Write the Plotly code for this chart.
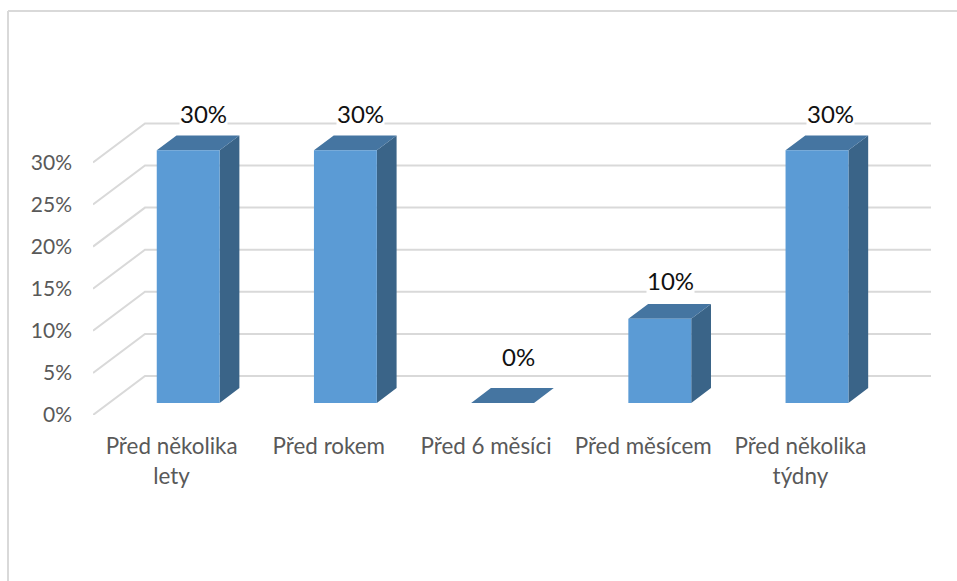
import plotly.graph_objects as go

# Chart data
categories = ["Před několika<br>lety", "Před rokem", "Před 6 měsíci", "Před měsícem", "Před několika<br>týdny"]
values = [30, 30, 0, 10, 30]
value_labels = ["30%", "30%", "0%", "10%", "30%"]
y_ticks = [0, 5, 10, 15, 20, 25, 30]
y_tick_labels = ["0%", "5%", "10%", "15%", "20%", "25%", "30%"]

# Per-label nudges for the value labels, in pixels
label_dx = [-4, -4, -3, -9, -6]
label_dy = [-22, -22, -32, -23, -22]

# Page geometry in pixels
W, H = 957, 581
LEFT, RIGHT, TOP, BOTTOM = 93, 931, 100, 415
CAT_PX = 157.2
PCT_PX = 8.42

# Oblique projection of the 3D floor, expressed in axis units
DEPTH_X = 52 / CAT_PX
DEPTH_Y = 39 / PCT_PX
BAR_WIDTH = 0.40
BAR_SHIFT = 0.003
BAR_D0 = 0.31
BAR_D1 = 0.69

X_MIN = -0.5
X_MAX = X_MIN + (RIGHT - LEFT) / CAT_PX
Y_MAX = (BOTTOM - TOP) / PCT_PX


def project(x, v, depth):
    return x + depth * DEPTH_X, v + depth * DEPTH_Y


def polygon(points):
    xs, ys = zip(*[project(*p) for p in points])
    return list(xs) + [xs[0], None], list(ys) + [ys[0], None]


def face_trace(faces, color):
    xs, ys = [], []
    for f in faces:
        px, py = polygon(f)
        xs += px
        ys += py
    return go.Scatter(x=xs, y=ys, mode="lines", fill="toself", fillcolor=color,
                      line=dict(width=0, color=color), hoverinfo="skip",
                      showlegend=False, cliponaxis=False)


fig = go.Figure()

# Walls: a diagonal on the side wall and a horizontal run on the back wall
grid_x, grid_y = [], []
for t in y_ticks:
    for p in [(X_MIN, t, 0), (X_MIN, t, 1), (X_MAX - DEPTH_X, t, 1)]:
        px, py = project(*p)
        grid_x.append(px)
        grid_y.append(py)
    grid_x.append(None)
    grid_y.append(None)
fig.add_trace(go.Scatter(x=grid_x, y=grid_y, mode="lines",
                         line=dict(color="#d9d9d9", width=2),
                         hoverinfo="skip", showlegend=False, cliponaxis=False))

# Bar faces
front, side, top = [], [], []
for i, v in enumerate(values):
    a, b = i + BAR_SHIFT - BAR_WIDTH / 2, i + BAR_SHIFT + BAR_WIDTH / 2
    top.append([(a, v, BAR_D0), (b, v, BAR_D0), (b, v, BAR_D1), (a, v, BAR_D1)])
    if v > 0:
        front.append([(a, 0, BAR_D0), (b, 0, BAR_D0), (b, v, BAR_D0), (a, v, BAR_D0)])
        side.append([(b, 0, BAR_D0), (b, 0, BAR_D1), (b, v, BAR_D1), (b, v, BAR_D0)])
fig.add_trace(face_trace(side, "#3a6488"))
fig.add_trace(face_trace(top, "#4575a1"))
fig.add_trace(face_trace(front, "#5b9bd5"))

# Value labels sit above the bar tops on a white plate
for i, v in enumerate(values):
    lx, ly = project(i, v, BAR_D1)
    fig.add_annotation(x=lx, y=ly, text=value_labels[i], showarrow=False,
                       xshift=label_dx[i], yshift=-label_dy[i], bgcolor="white",
                       font=dict(family="Lato", size=24, color="#111111"),
                       borderpad=0)

# Outer frame of the chart: only the left and top edges are on the page
def px_x(p):
    return (p - LEFT) / (RIGHT - LEFT)


def px_y(p):
    return (BOTTOM - p) / (BOTTOM - TOP)


frame = dict(color="#d9d9d9", width=2)
fig.add_shape(type="line", xref="paper", yref="paper", x0=px_x(8), x1=px_x(8),
              y0=px_y(11), y1=px_y(H + 2), line=frame)
fig.add_shape(type="line", xref="paper", yref="paper", x0=px_x(8), x1=px_x(W + 2),
              y0=px_y(11), y1=px_y(11), line=frame)

fig.update_layout(
    width=W, height=H, autosize=False,
    margin=dict(l=LEFT, r=W - RIGHT, t=TOP, b=H - BOTTOM, pad=0),
    paper_bgcolor="white", plot_bgcolor="rgba(0,0,0,0)",
    showlegend=False, hovermode=False,
    font=dict(family="Lato", size=21, color="#595959"),
    xaxis=dict(range=[X_MIN, X_MAX], tickmode="array", tickvals=list(range(len(categories))),
               ticktext=categories, showgrid=False, zeroline=False, showline=False,
               ticks="", ticklabelstandoff=16, tickangle=0, fixedrange=True,
               tickfont=dict(family="Lato", size=22.4, color="#595959")),
    yaxis=dict(range=[0, Y_MAX], tickmode="array", tickvals=y_ticks, ticktext=y_tick_labels,
               showgrid=False, zeroline=False, showline=False, ticks="",
               ticklabelstandoff=20, fixedrange=True),
)

fig.write_html("out.html", config={"displayModeBar": False})
